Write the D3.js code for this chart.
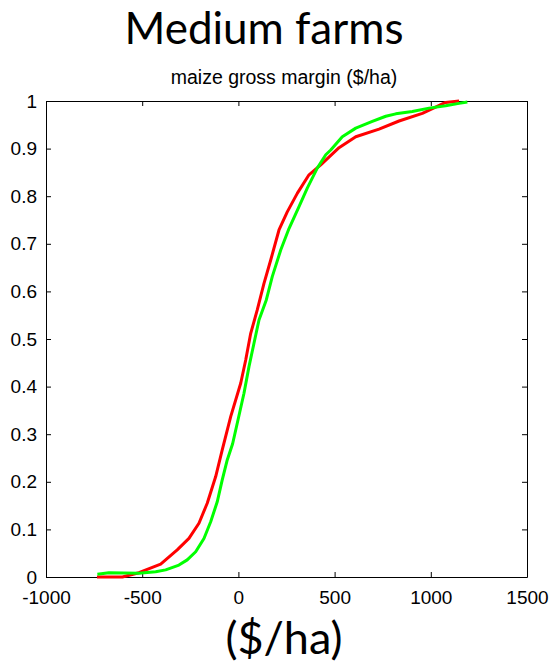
<!DOCTYPE html>
<html>
<head>
<meta charset="utf-8">
<script src="https://cdn.jsdelivr.net/npm/d3@7"></script>
<style>
  body { margin: 0; background: #fff; }
  svg { display: block; }
</style>
</head>
<body>
<svg id="chart" width="551" height="668"></svg>
<script>
// gross margin ($/ha) vs cumulative probability
const redX = [-735, -603, -517, -404, -318, -257, -205, -162, -118, -84, -40, 12, 38, 64, 98, 133, 168, 211, 254, 306, 367, 428, 523, 610, 731, 835, 956, 1077, 1147];
const redP = [0, 0, 0.009, 0.027, 0.057, 0.081, 0.113, 0.155, 0.211, 0.267, 0.337, 0.407, 0.456, 0.512, 0.561, 0.617, 0.666, 0.729, 0.767, 0.806, 0.845, 0.866, 0.902, 0.925, 0.941, 0.958, 0.974, 0.997, 1];

const greenX = [-733, -673, -517, -430, -378, -309, -266, -222, -179, -144, -110, -84, -58, -30, -6, 29, 55, 81, 107, 145, 176, 220, 263, 315, 358, 410, 454, 480, 540, 610, 696, 766, 818, 904, 991, 1077, 1147, 1190];
const greenP = [0.006, 0.009, 0.008, 0.011, 0.015, 0.025, 0.036, 0.053, 0.081, 0.116, 0.158, 0.204, 0.246, 0.280, 0.323, 0.386, 0.442, 0.491, 0.540, 0.582, 0.631, 0.687, 0.732, 0.778, 0.817, 0.859, 0.887, 0.897, 0.925, 0.943, 0.957, 0.968, 0.973, 0.978, 0.985, 0.990, 0.995, 0.998];

const xTicks = [-1000, -500, 0, 500, 1000, 1500];
const yTicks = [0, 0.1, 0.2, 0.3, 0.4, 0.5, 0.6, 0.7, 0.8, 0.9, 1];

const svg = d3.select("#chart");
const plotL = 46, plotR = 527, plotT = 101, plotB = 577;

const x = d3.scaleLinear().domain([-1000, 1500]).range([plotL, plotR]);
const y = d3.scaleLinear().domain([0, 1]).range([plotB, plotT]);

// titles
svg.append("text")
  .attr("x", 264).attr("y", 44)
  .attr("text-anchor", "middle")
  .style("font-family", "Lato, 'Open Sans', sans-serif")
  .style("font-size", "44px")
  .text("Medium farms");

svg.append("text")
  .attr("x", 284).attr("y", 84)
  .attr("text-anchor", "middle")
  .style("font-family", "'Liberation Sans', Arial, sans-serif")
  .style("font-size", "19.5px")
  .text("maize gross margin ($/ha)");

svg.append("text")
  .attr("x", 284).attr("y", 654)
  .attr("text-anchor", "middle")
  .style("font-family", "Lato, 'Open Sans', sans-serif")
  .style("font-size", "45px")
  .text("($/ha)");

// axes, MATLAB style ticks pointing in
const fmtY = d => d === 0 ? "0" : d === 1 ? "1" : d3.format(".1f")(d);
const fmtX = d => String(d); // plain hyphen minus like the original

svg.append("g").attr("transform", `translate(0,${plotB})`)
  .call(d3.axisBottom(x).tickValues(xTicks).tickSizeInner(-5).tickSizeOuter(0).tickPadding(14).tickFormat(fmtX));
svg.append("g").attr("transform", `translate(0,${plotT})`)
  .call(d3.axisTop(x).tickValues(xTicks).tickSizeInner(-5).tickSizeOuter(0).tickFormat(""));
svg.append("g").attr("transform", `translate(${plotL},0)`)
  .call(d3.axisLeft(y).tickValues(yTicks).tickSizeInner(-5).tickSizeOuter(0).tickPadding(9).tickFormat(fmtY));
svg.append("g").attr("transform", `translate(${plotR},0)`)
  .call(d3.axisRight(y).tickValues(yTicks).tickSizeInner(-5).tickSizeOuter(0).tickFormat(""));

svg.selectAll(".tick text")
  .style("font-family", "'Liberation Sans', Arial, sans-serif")
  .style("font-size", "19px")
  .attr("fill", "#000");
svg.selectAll(".domain, .tick line").attr("stroke", "#000");

// curves
const line = d3.line().x(d => x(d[0])).y(d => y(d[1]));
const redData = redX.map((v, i) => [v, redP[i]]);
const greenData = greenX.map((v, i) => [v, greenP[i]]);

svg.append("path").datum(redData)
  .attr("d", line).attr("fill", "none")
  .attr("stroke", "#ff0000").attr("stroke-width", 3).attr("stroke-linejoin", "round");
svg.append("path").datum(greenData)
  .attr("d", line).attr("fill", "none")
  .attr("stroke", "#00ff00").attr("stroke-width", 3).attr("stroke-linejoin", "round");
</script>
</body>
</html>
